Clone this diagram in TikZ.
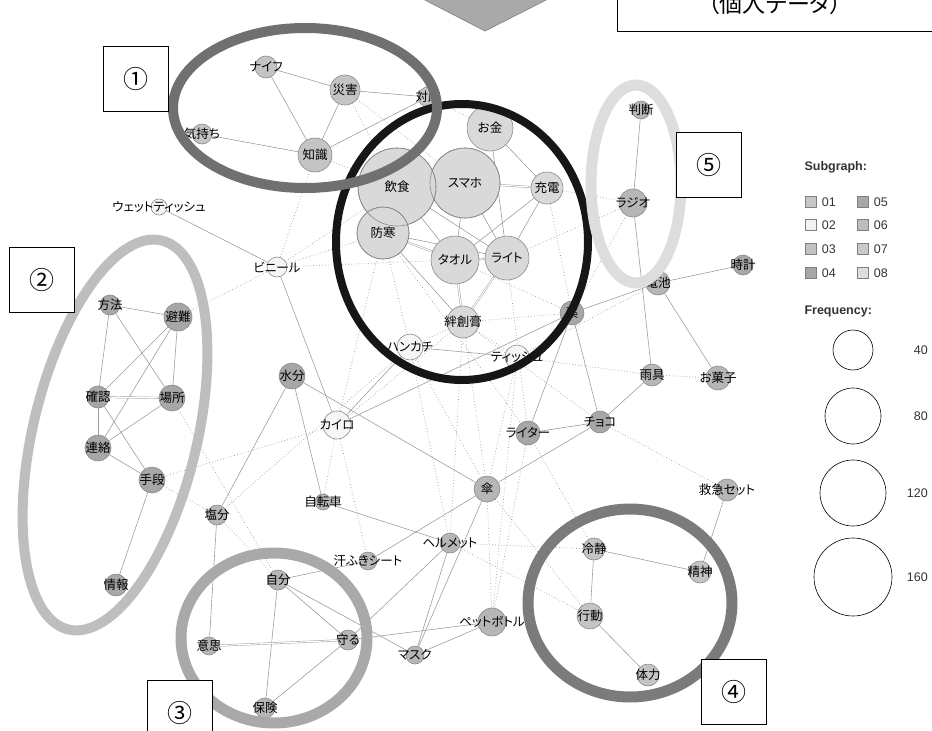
\documentclass[tikz,border=0pt]{standalone}
\usepackage{fontspec}
\setmainfont{Liberation Sans}
\newfontfamily\jp[RawFeature=+palt]{Noto Sans CJK JP}
\usetikzlibrary{positioning,backgrounds}

\definecolor{cA}{HTML}{D9D9D9}
\definecolor{cB}{HTML}{C4C4C4}
\definecolor{cC}{HTML}{A7A7A7}
\definecolor{cD}{HTML}{B6B6B6}
\definecolor{cW}{HTML}{F6F6F6}
\definecolor{rim}{HTML}{8A8A8A}
\definecolor{edgegray}{HTML}{9E9E9E}
\definecolor{ringA}{HTML}{707070}
\definecolor{ringK}{HTML}{161616}
\definecolor{ringB}{HTML}{BEBEBE}
\definecolor{ringC}{HTML}{A9A9A9}
\definecolor{ringD}{HTML}{7B7B7B}
\definecolor{ringE}{HTML}{DDDDDD}
\definecolor{arrowgray}{HTML}{A9A9A9}

\tikzset{
  word/.style={circle, draw=rim, line width=0.6pt, inner sep=0pt},
  lbl/.style={font=\jp\fontsize{12.5}{13}\selectfont, inner sep=0pt},
  cooc/.style={draw=edgegray, line width=0.6pt},
  strong/.style={draw=edgegray, line width=0.45pt, double=white, double distance=1.1pt},
  weak/.style={draw=edgegray, line width=0.7pt, dash pattern=on 0.7pt off 2.2pt},
  ring/.style={line width=10pt},
  numbox/.style={draw, line width=0.8pt, fill=white, minimum size=65pt, inner sep=0pt,
    font=\jp\fontsize{25}{25}\selectfont},
  sq/.style={draw=gray, line width=0.5pt, minimum size=11pt, inner sep=0pt},
  legtxt/.style={font=\fontsize{12.5}{13}\selectfont, text=black!80, inner sep=0pt}
}

\begin{document}
\begin{tikzpicture}[x=1pt,y=-1pt]

% -------------------------------------------------
% Cadre
% -------------------------------------------------
\useasboundingbox (0,0) rectangle (932,731);
\clip (0,0) rectangle (932,731);

% fleche et titre (coupes en haut)
\filldraw[fill=arrowgray, draw=rim, line width=0.8pt] (423,-1) -- (548,-1) -- (485,31) -- cycle;
\draw[line width=1pt] (617,-10) rectangle (945,31);
\node[font=\jp\fontsize{23}{23}\selectfont, anchor=base] (titre) at (775,12) {（個人データ）};

% -------------------------------------------------
% Mots
% -------------------------------------------------
\foreach \n/\x/\y/\r/\f/\t in {
  knife/266/67/11/cB/ナイフ, saigai/345/90/15/cB/災害, taio/428/97/10/cB/対応,
  kimochi/202/134/10/cB/気持ち, chishiki/315/155/17/cB/知識,
  okane/490/128/23/cA/お金, sumaho/465/183/35/cA/スマホ, inshoku/397/187/39/cA/飲食,
  juden/547/188/16/cA/充電, bokan/383/233/26/cA/防寒, taoru/455/260/24/cA/タオル,
  raito/507/258/22/cA/ライト, bans/463/322/16/cA/絆創膏,
  wet/159/207/8/cW/ウェットティッシュ, vinyl/277/267/10/cW/ビニール,
  hanka/410/347/13/cW/ハンカチ, tissue/517/357/12/cW/ティッシュ, kairo/337/425/14/cW/カイロ,
  kusuri/572/313/12/cC/薬, handan/641/110/9/cD/判断, radio/633/203/14/cD/ラジオ,
  denchi/658/283/12/cD/電池, tokei/743/265/10/cC/時計, amagu/652/375/11/cD/雨具,
  okashi/718/378/12/cD/お菓子, choco/600/422/11/cC/チョコ, lighter/528/433/12/cC/ライター,
  kyukyu/727/490/11/cD/救急セット,
  hoho/110/305/10/cC/方法, hinan/178/317/14/cC/避難, kakunin/98/397/11/cC/確認,
  basho/172/398/13/cC/場所, renraku/98/448/13/cC/連絡, shudan/152/480/13/cC/手段,
  joho/116/585/11/cC/情報, enbun/217/515/10/cD/塩分, suibun/292/376/13/cC/水分,
  jitensha/323/502/8/cD/自転車, kasa/487/489/13/cD/傘, helmet/450/543/10/cD/ヘルメット,
  asefuki/368/561/9/cD/汗ふきシート, jibun/278/580/10/cD/自分, ishi/209/646/9/cD/意思,
  mamoru/348/640/10/cD/守る, hoken/265/708/10/cD/保険, mask/415/655/9/cD/マスク,
  pet/492/622/14/cD/ペットボトル,
  reisei/594/549/11/cB/冷静, seishin/700/572/11/cB/精神, kodo/590/616/13/cB/行動,
  tairyoku/648/675/11/cB/体力}
  \node[word, fill=\f, minimum size={2*\r pt}, label={[lbl]center:\t}] (\n) at (\x,\y) {};

% contours des grands cercles qui se recouvrent
\foreach \n/\r in {inshoku/39, sumaho/35, bokan/26}
  \draw[draw=rim, line width=0.6pt] (\n) circle[radius=\r pt];

% -------------------------------------------------
% Liens
% -------------------------------------------------
\begin{scope}[on background layer]
\foreach \a/\b in {knife/saigai, knife/chishiki, saigai/chishiki, saigai/taio, kimochi/chishiki,
  chishiki/taio, wet/vinyl, vinyl/kairo, hanka/tissue, hanka/kairo, kairo/kusuri,
  inshoku/taoru, inshoku/raito, sumaho/taoru, sumaho/raito, okane/juden, okane/raito,
  juden/raito, juden/taoru, bokan/raito, bokan/bans,
  kusuri/lighter, kusuri/choco, kusuri/denchi, lighter/choco, choco/amagu, choco/kasa,
  radio/handan, radio/amagu, denchi/tokei, denchi/okashi, kyukyu/seishin,
  suibun/kasa, suibun/jitensha, suibun/enbun, jitensha/helmet, kasa/asefuki, kasa/mask,
  helmet/mamoru, helmet/mask, asefuki/jibun, jibun/mamoru, jibun/hoken, jibun/mask,
  ishi/enbun, mamoru/hoken, mamoru/pet, mask/pet,
  reisei/seishin, reisei/kodo, kodo/tairyoku,
  hoho/hinan, hoho/kakunin, hoho/basho, hinan/kakunin, hinan/renraku, hinan/basho,
  kakunin/renraku, kakunin/shudan, basho/renraku, renraku/shudan, shudan/joho}
  \draw[cooc] (\a) -- (\b);

% liens forts
\foreach \a/\b in {sumaho/juden, bokan/taoru, taoru/raito, taoru/bans, raito/bans,
  kakunin/basho, ishi/mamoru}
  \draw[strong] (\a) -- (\b);

% liens faibles
\foreach \a/\b in {saigai/inshoku, saigai/sumaho, taio/okane, chishiki/vinyl, chishiki/inshoku,
  vinyl/bokan, vinyl/taoru, vinyl/inshoku, hinan/vinyl, basho/jibun, shudan/enbun,
  shudan/kairo, enbun/hanka, enbun/jibun, kairo/jitensha, kairo/asefuki, kairo/bokan,
  kairo/bans, bokan/hanka, bans/kusuri, bans/tissue, bans/hanka, raito/radio, juden/radio,
  taoru/kusuri, raito/lighter, bans/choco, tissue/amagu, amagu/okashi, choco/kyukyu,
  tissue/denchi, helmet/reisei, helmet/kodo, tissue/kasa, bans/kasa, hanka/helmet,
  reisei/lighter, kasa/kodo, tissue/pet, juden/kusuri, bokan/lighter, bans/helmet,
  hanka/kasa, lighter/pet, kasa/pet, radio/kusuri}
  \draw[weak] (\a) -- (\b);
\end{scope}

% -------------------------------------------------
% Groupes
% -------------------------------------------------
\draw[ring, ringK, line width=8pt] (462,242) ellipse [x radius=126pt, y radius=138pt];
\draw[ring, ringA] (305,108) ellipse [x radius=132pt, y radius=80pt];
\draw[ring, ringE, line width=11pt] (636,184) ellipse [x radius=45pt, y radius=99pt];
\draw[ring, ringB, rotate around={76.5:(115,435)}] (115,435) ellipse [x radius=200pt, y radius=82pt];
\draw[ring, ringC, line width=11pt] (274,638) ellipse [x radius=93pt, y radius=85pt];
\draw[ring, ringD, line width=11pt] (630,603) ellipse [x radius=102pt, y radius=94pt];

\node[numbox] (g1) at (135.5,79) {①};
\node[numbox] (g2) at (42,280) {②};
\node[numbox] (g3) at (180,713) {③};
\node[numbox] (g4) at (734,692) {④};
\node[numbox] (g5) at (708.5,164.5) {⑤};

% -------------------------------------------------
% Legende
% -------------------------------------------------
\node[anchor=west, font=\bfseries\fontsize{12.5}{13}\selectfont, text=black!80] (subg) at (801,167) {Subgraph:};
\foreach \i/\x/\y/\v in {01/811/202/22, 02/811/225/5, 03/811/249/24, 04/811/273/35,
  05/863/202/34, 06/863/225/26, 07/863/249/21, 08/863/273/13} {
  \node[sq, fill=black!\v] (sq\i) at (\x,\y) {};
  \node[legtxt, right=5pt of sq\i] {\i};
}

\node[anchor=west, font=\bfseries\fontsize{12.5}{13}\selectfont, text=black!80] (freq) at (801,311) {Frequency:};
\foreach \f/\y/\r in {40/350/20, 80/416/28, 120/493/33, 160/577/39} {
  \node[circle, draw, line width=0.6pt, minimum size={2*\r pt}, inner sep=0pt] (f\f) at (853,\y) {};
  \node[legtxt, anchor=east] at (928,\y) {\f};
}

\end{tikzpicture}
\end{document}
